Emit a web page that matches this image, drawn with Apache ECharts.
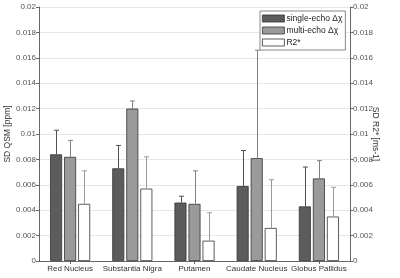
<!DOCTYPE html>
<html>
<head>
<meta charset="utf-8">
<script src="https://cdn.jsdelivr.net/npm/echarts@6/dist/echarts.min.js"></script>
<style>
  html, body { margin: 0; padding: 0; background: #fff; }
  #chart { width: 400px; height: 278px; }
</style>
</head>
<body>
<div id="chart"></div>
<script>
var regions = ['Red Nucleus', 'Substantia Nigra', 'Putamen', 'Caudate Nucleus', 'Globus Pallidus'];
var seriesNames = ['single-echo \u0394\u03c7', 'multi-echo \u0394\u03c7', 'R2*'];

// bar heights
var singleEcho = [0.0084, 0.0073, 0.0046, 0.0059, 0.0043];
var multiEcho = [0.0082, 0.0120, 0.0045, 0.0081, 0.0065];
var r2star = [0.0045, 0.0057, 0.0016, 0.0026, 0.0035];

// upper end of the error bars
var singleEchoErr = [0.0103, 0.0091, 0.0051, 0.0087, 0.0074];
var multiEchoErr = [0.0095, 0.0126, 0.0071, 0.0166, 0.0079];
var r2starErr = [0.0071, 0.0082, 0.0038, 0.0064, 0.0058];

var yTicks = { min: 0, max: 0.02, interval: 0.002 };

(function() {
  var font = 'Liberation Sans, Arial, sans-serif';
  var axisGray = '#666';
  var fills = ['#5c5c5c', '#9a9a9a', '#ffffff'];
  var errColors = ['#505050', '#808080', '#9a9a9a'];
  var values = [singleEcho, multiEcho, r2star];
  var errs = [singleEchoErr, multiEchoErr, r2starErr];
  var barW = 12, step = 14;

  var chart = echarts.init(document.getElementById('chart'), null, { renderer: 'canvas' });

  function yAxis(pos, name, rot, gap) {
    return {
      type: 'value',
      position: pos,
      min: yTicks.min, max: yTicks.max, interval: yTicks.interval,
      name: name,
      nameLocation: 'middle',
      nameRotate: rot,
      nameGap: gap,
      nameMoveOverlap: false,
      nameTextStyle: { color: '#333', fontSize: 8.5, fontFamily: font },
      axisLine: { show: true, lineStyle: { color: axisGray, width: 1 } },
      axisTick: { show: true, length: 3, lineStyle: { color: axisGray } },
      axisLabel: { color: '#555', fontSize: 8, fontFamily: font, margin: 3 },
      splitLine: { show: pos === 'left', lineStyle: { color: '#e6e6e6', width: 1 } }
    };
  }

  var series = [];
  values.forEach(function(v, i) {
    series.push({
      name: seriesNames[i],
      type: 'bar',
      data: v,
      barWidth: barW,
      barGap: '17%',
      itemStyle: { color: fills[i], borderColor: '#333', borderWidth: 0.8 },
      z: 2
    });
  });
  errs.forEach(function(e, i) {
    var data = e.map(function(top, k) { return [k, values[i][k], top]; });
    series.push({
      type: 'custom',
      silent: true,
      z: 3,
      encode: { x: 0, y: [1, 2] },
      data: data,
      renderItem: function(params, api) {
        var off = (i - 1) * step;
        var base = api.coord([api.value(0), api.value(1)]);
        var top = api.coord([api.value(0), api.value(2)]);
        var x = Math.round(base[0] + off) + 0.5;
        var style = { stroke: errColors[i], lineWidth: 1 };
        return {
          type: 'group',
          children: [
            { type: 'line', shape: { x1: x, y1: base[1], x2: x, y2: top[1] }, style: style },
            { type: 'line', shape: { x1: x - 2.5, y1: top[1], x2: x + 2.5, y2: top[1] }, style: style }
          ]
        };
      }
    });
  });

  chart.setOption({
    animation: false,
    backgroundColor: '#fff',
    grid: { left: 39, right: 50, top: 7, bottom: 17, outerBoundsMode: 'none', containLabel: false },
    legend: {
      data: seriesNames,
      orient: 'vertical',
      left: 260,
      top: 11,
      icon: 'rect',
      itemWidth: 22,
      itemHeight: 7,
      itemGap: 3,
      padding: [3, 3, 3, 2],
      borderColor: '#888',
      borderWidth: 1,
      backgroundColor: '#fff',
      textStyle: { color: '#222', fontSize: 8.5, fontFamily: font, padding: [0, 0, 0, -3] },
      itemStyle: { borderColor: '#333', borderWidth: 0.8 }
    },
    xAxis: [{
      type: 'category',
      data: regions,
      position: 'bottom',
      axisLine: { lineStyle: { color: axisGray } },
      axisTick: { show: true, inside: true, alignWithLabel: true, length: 3, lineStyle: { color: axisGray } },
      axisLabel: { color: '#333', fontSize: 8, fontFamily: font, margin: 4, interval: 0 }
    }, {
      type: 'category',
      data: regions,
      position: 'top',
      axisLine: { lineStyle: { color: axisGray } },
      axisTick: { show: true, inside: true, alignWithLabel: true, length: 3, lineStyle: { color: axisGray } },
      axisLabel: { show: false }
    }],
    yAxis: [
      yAxis('left', 'SD QSM [ppm]', 90, 27),
      yAxis('right', 'SD R2* [ms-1]', -90, 21)
    ],
    series: series
  });
})();
</script>
</body>
</html>
